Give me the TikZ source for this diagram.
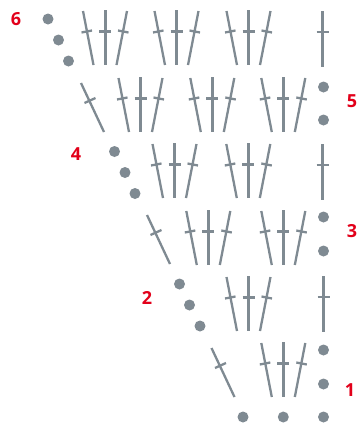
\documentclass[tikz,border=0pt]{standalone}
\usepackage{fontspec}
\setmainfont{Open Sans}
\definecolor{yarngray}{HTML}{7F8A92}
\definecolor{rowred}{HTML}{E2001A}
\tikzset{
  stitch/.style={draw=yarngray, line width=2.3pt},
  post/.style={draw=yarngray, line width=3pt},
  rownum/.style={text=rowred, font=\bfseries\fontsize{18}{18}\selectfont, inner sep=0pt}
}
\begin{document}
\begin{tikzpicture}[x=1pt, y=-1pt]
    \useasboundingbox (0,0) rectangle (363,426);

    % Fans of three tall stitches (centre x / top y)
    \foreach \x/\y in {105/10, 176.5/10, 248.5/10, 140.5/77, 212.3/77, 283.3/77, 174.5/143, 248.3/143, 208.3/210, 283.3/210, 248.5/276, 283.3/342} {
        \draw[stitch] (\x-22,\y+1) -- (\x-11.5,\y+55);
        \draw[stitch] (\x-23.5,\y+22.5) -- (\x-13,\y+20.5);
        \draw[post] (\x,\y) -- (\x,\y+55);
        \draw[stitch] (\x-6,\y+21.5) -- (\x+6,\y+21.5);
        \draw[stitch] (\x+22,\y+1) -- (\x+11.5,\y+55);
        \draw[stitch] (\x+13,\y+20.5) -- (\x+23.5,\y+22.5);
    }

    % Single upright stitches at the row ends
    \foreach \x/\y in {322.5/11, 322.5/144, 323.5/276} {
        \draw[post] (\x,\y) -- (\x,\y+56);
        \draw[stitch] (\x-6,\y+21) -- (\x+6,\y+21);
    }

    % Slanted turning stitches
    \foreach \x/\y in {81/83, 147/215, 211.5/348} {
        \draw[stitch] (\x,\y) -- (\x+23,\y+49);
        \draw[stitch] (\x+3.5,\y+20) -- (\x+14.5,\y+15);
    }

    % Chains
    \foreach \x/\y in {48/19, 58.5/40, 68.5/61, 323.5/87, 323.5/120, 114.5/151.5, 125/172.5, 135/193.5, 323.5/217, 323.5/251, 179.5/284, 189.5/305, 200/326, 323.5/350, 323.5/384, 243/417, 283.3/417, 323.5/417} {
        \fill[yarngray] (\x,\y) circle (5.5);
    }

    % Row numbers
    \node[rownum] (row1) at (350,390.5) {1};
    \node[rownum] (row2) at (147,298) {2};
    \node[rownum] (row3) at (352,231) {3};
    \node[rownum] (row4) at (76,154) {4};
    \node[rownum] (row5) at (352,101) {5};
    \node[rownum] (row6) at (16,19) {6};
\end{tikzpicture}
\end{document}
